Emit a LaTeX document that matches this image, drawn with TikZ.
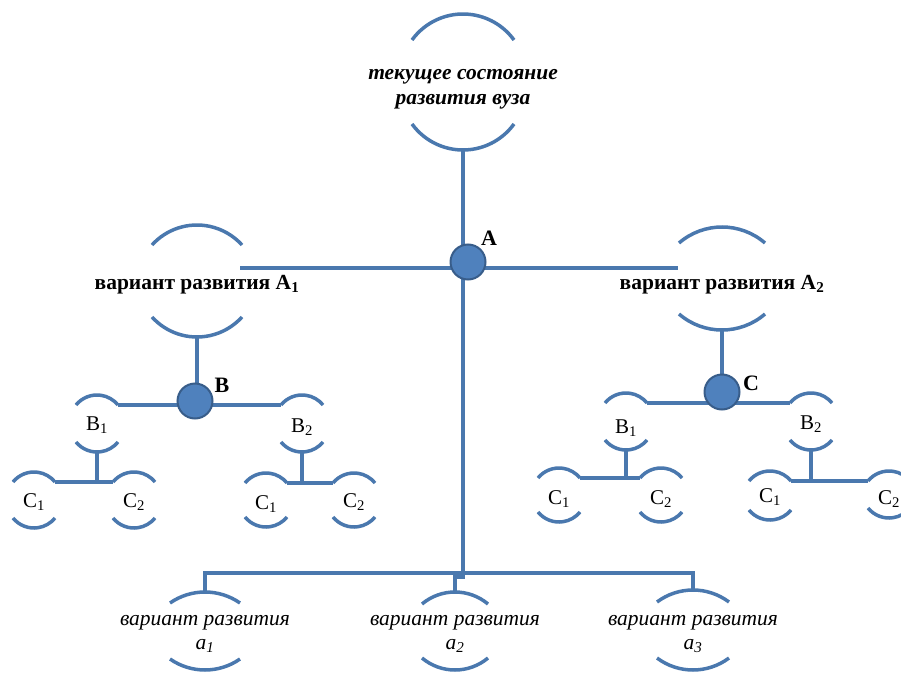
\documentclass[tikz,border=0pt]{standalone}
\usepackage{fontspec}
\setmainfont{Liberation Serif}
\definecolor{lineblue}{RGB}{74,120,174}
\definecolor{dotfill}{RGB}{79,129,189}
\definecolor{dotdraw}{RGB}{56,93,138}
\tikzset{
  arcline/.style={draw=lineblue, line width=3.5pt},
  conn/.style={draw=lineblue, line width=3.5pt},
  dot/.style={circle, fill=dotfill, draw=dotdraw, line width=2pt, minimum size=35pt, inner sep=0pt},
  lbl/.style={font=\fontsize{22}{26}\selectfont\bfseries, inner sep=0pt},
  toptext/.style={font=\fontsize{21.5}{25}\selectfont\bfseries\itshape, align=center, inner sep=0pt},
  midtext/.style={font=\fontsize{21.5}{25}\selectfont\bfseries, align=center, inner sep=0pt},
  bottext/.style={font=\fontsize{21.5}{24}\selectfont\itshape, align=center, inner sep=0pt},
  smalltext/.style={font=\fontsize{21}{24}\selectfont, align=center, inner sep=0pt},
}
% #1 name, #2 cx, #3 text y, #4 top apex y, #5 bottom apex y, #6 half chord, #7 sagitta, #8 style, #9 text
\newcommand\brk[9]{%
  \pgfmathsetmacro\brkR{(#6*#6+#7*#7)/(2*#7)}%
  \pgfmathsetmacro\brkT{asin(#6/\brkR)}%
  \draw[arcline] (#2-#6,-#4-#7) arc[start angle=90+\brkT, end angle=90-\brkT, radius=\brkR pt];
  \draw[arcline] (#2-#6,-#5+#7) arc[start angle=270-\brkT, end angle=270+\brkT, radius=\brkR pt];
  \node[#8] (#1) at (#2,-#3) {#9};
  \coordinate (#1-n) at (#2,-#4);
  \coordinate (#1-s) at (#2,-#5);
  \coordinate (#1-nw) at (#2-#6,-#4-#7);
  \coordinate (#1-ne) at (#2+#6,-#4-#7);
}
\begin{document}
\begin{tikzpicture}[x=1pt,y=1pt]
\useasboundingbox (0,0) rectangle (901,-679);
% bracket nodes
\brk{top}{463}{89}{14}{150}{51}{26}{toptext}{текущее состояние\\развития вуза}
\brk{A1}{197}{285}{225}{337}{45}{20}{midtext}{вариант развития A\textsubscript{1}}
\brk{A2}{722}{285}{227}{330}{43}{16}{midtext}{вариант развития A\textsubscript{2}}
\brk{B1L}{97}{425}{395}{452}{21}{10}{smalltext}{B\textsubscript{1}}
\brk{B2L}{302}{427}{395}{452}{21}{10}{smalltext}{B\textsubscript{2}}
\brk{C1a}{34}{502}{472}{528}{21}{10}{smalltext}{C\textsubscript{1}}
\brk{C2a}{134}{502}{472}{528}{21}{10}{smalltext}{C\textsubscript{2}}
\brk{C1b}{266}{504}{473}{527}{21}{10}{smalltext}{C\textsubscript{1}}
\brk{C2b}{354}{502}{473}{527}{21}{10}{smalltext}{C\textsubscript{2}}
\brk{B1R}{626}{428}{393}{450}{21}{10}{smalltext}{B\textsubscript{1}}
\brk{B2R}{811}{424}{393}{450}{21}{10}{smalltext}{B\textsubscript{2}}
\brk{C1c}{559}{499}{468}{522}{21}{10}{smalltext}{C\textsubscript{1}}
\brk{C2c}{661}{499}{468}{522}{21}{10}{smalltext}{C\textsubscript{2}}
\brk{C1d}{770}{497}{471}{520}{21}{10}{smalltext}{C\textsubscript{1}}
\brk{C2d}{889}{499}{471}{518}{21}{10}{smalltext}{C\textsubscript{2}}
\brk{a1}{205}{634}{592}{670}{35}{11}{bottext}{вариант развития\\\textit{a}\textsubscript{\textit{1}}}
\brk{a2}{455}{634}{592}{670}{33}{12}{bottext}{вариант развития\\\textit{a}\textsubscript{\textit{2}}}
\brk{a3}{693}{634}{590}{670}{36}{12}{bottext}{вариант развития\\\textit{a}\textsubscript{\textit{3}}}
% connector coordinates
\coordinate (A1-link) at (240,-268);
\coordinate (A2-link) at (678,-268);
\coordinate (bus) at (463,-573);
% main connectors
\draw[conn] (top-s) -- (bus);
\draw[conn] (A1-link) -- (A2-link);
\draw[conn] (a1-n) |- (bus) -| (a3-n);
\draw[conn] (bus) -- ++(0,-4) -| (a2-n);
% left subtree
\draw[conn] (A1-s) -- (A1-s |- B1L-ne);
\draw[conn] (B1L-ne) -- (B2L-nw);
\draw[conn] (B1L-s) -- (B1L-s |- C1a-ne);
\draw[conn] (C1a-ne) -- (C2a-nw);
\draw[conn] (B2L-s) -- (B2L-s |- C1b-ne);
\draw[conn] (C1b-ne) -- (C2b-nw);
% right subtree
\draw[conn] (A2-s) -- (A2-s |- B1R-ne);
\draw[conn] (B1R-ne) -- (B2R-nw);
\draw[conn] (B1R-s) -- (B1R-s |- C1c-ne);
\draw[conn] (C1c-ne) -- (C2c-nw);
\draw[conn] (B2R-s) -- (B2R-s |- C1d-ne);
\draw[conn] (C1d-ne) -- (C2d-nw);
% junction dots
\node[dot] (A) at (468,-262) {};
\node[dot] (B) at (195,-401) {};
\node[dot] (C) at (722,-392) {};
\node[lbl] (LA) at (489,-238) {A};
\node[lbl] (LB) at (222,-385) {B};
\node[lbl] (LC) at (751,-383) {C};
\end{tikzpicture}
\end{document}
